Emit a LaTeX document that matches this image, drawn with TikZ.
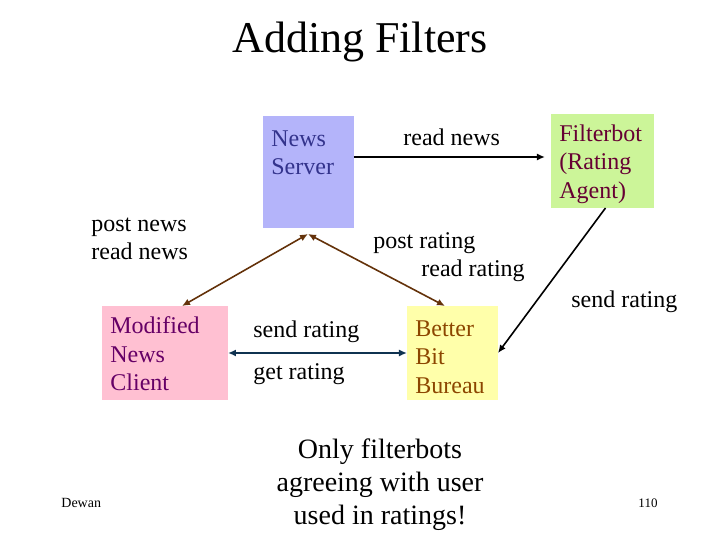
\documentclass[tikz,border=0pt]{standalone}
\usepackage{fontspec}
\setmainfont{Liberation Serif}
\usetikzlibrary{arrows.meta,positioning}
\definecolor{serverfill}{RGB}{180,180,250}
\definecolor{servertext}{RGB}{51,51,140}
\definecolor{botfill}{RGB}{204,245,153}
\definecolor{bottext}{RGB}{102,0,51}
\definecolor{clientfill}{RGB}{255,192,210}
\definecolor{clienttext}{RGB}{102,0,102}
\definecolor{bureaufill}{RGB}{255,255,170}
\definecolor{bureautext}{RGB}{140,70,0}
\definecolor{brownline}{RGB}{100,50,10}
\definecolor{navyline}{RGB}{15,50,80}
\tikzset{
  box/.style={rectangle,inner sep=0pt,outer sep=0pt},
  boxtext/.style={anchor=north west,inner sep=0pt,align=left,
    font=\fontsize{12}{14.4}\selectfont},
  lbl/.style={anchor=base west,inner sep=0pt,font=\fontsize{12}{14.4}\selectfont},
  tip/.style={-{Latex[length=4pt,width=3.5pt]}},
  twotip/.style={{Latex[length=4pt,width=3.5pt]}-{Latex[length=4pt,width=3.5pt]}}
}
\begin{document}
\begin{tikzpicture}[x=0.5pt,y=-0.5pt]
  \useasboundingbox (0,0) rectangle (720,540);
  % Title
  \node[anchor=base,inner sep=0pt,font=\fontsize{22}{26}\selectfont] (title) at (360,53) {Adding Filters};
  % Boxes
  \node[box,fill=serverfill,minimum width=45.5pt,minimum height=56pt] (ns) at (308.5,172) {};
  \node[box,fill=botfill,minimum width=51.5pt,minimum height=47pt] (fb) at (602.5,161) {};
  \node[box,fill=clientfill,minimum width=63pt,minimum height=47pt] (cl) at (165,353) {};
  \node[box,fill=bureaufill,minimum width=45.5pt,minimum height=47pt] (bb) at (452.5,353) {};
  % Box texts
  \node[boxtext,text=servertext] (nstext) at (271,130) {News\\Server};
  \node[boxtext,text=bottext] (fbtext) at (559,124) {Filterbot\\(Rating\\Agent)};
  \node[boxtext,text=clienttext] (cltext) at (110,316) {Modified\\News\\Client};
  \node[boxtext,text=bureautext] (bbtext) at (415,320) {Better\\Bit\\Bureau};
  % Arrow end points
  \coordinate (apex) at (308,234);
  \coordinate (clin) at (182,306);
  \coordinate (bbin) at (445,306);
  % Connectors
  \draw[tip,thick] ([yshift=7.5pt]ns.east) -- ([yshift=7.5pt,xshift=-3pt]ns.east -| fb.west);
  \draw[twotip,thick,brownline] (apex) -- (clin);
  \draw[twotip,thick,brownline] (apex) -- (bbin);
  \draw[twotip,thick,navyline] (cl.east) -- (bb.west);
  \draw[tip,thick] ([xshift=1.5pt]fb.south) -- (bb.east);
  % Connector labels
  \node[lbl] (readnews) at (403,146) {read news};
  \node[lbl] (postnews) at (91,232) {post news};
  \node[lbl] (readnews2) at (91,260) {read news};
  \node[lbl] (postrating) at (373,249) {post rating};
  \node[lbl] (readrating) at (421,277) {read rating};
  \node[lbl] (sendrating) at (253,338) {send rating};
  \node[lbl] (getrating) at (253,380) {get rating};
  \node[lbl] (botsend) at (571,308) {send rating};
  % Note
  \node[anchor=north,inner sep=0pt,align=center,font=\fontsize{14}{16.5}\selectfont] (note) at (380,438)
    {Only filterbots\\agreeing with user\\used in ratings!};
  % Footer
  \node[anchor=base west,inner sep=0pt,font=\fontsize{7}{8}\selectfont] (author) at (61,508) {Dewan};
  \node[anchor=base,inner sep=0pt,font=\fontsize{6.5}{8}\selectfont] (page) at (648,508) {110};
\end{tikzpicture}
\end{document}
